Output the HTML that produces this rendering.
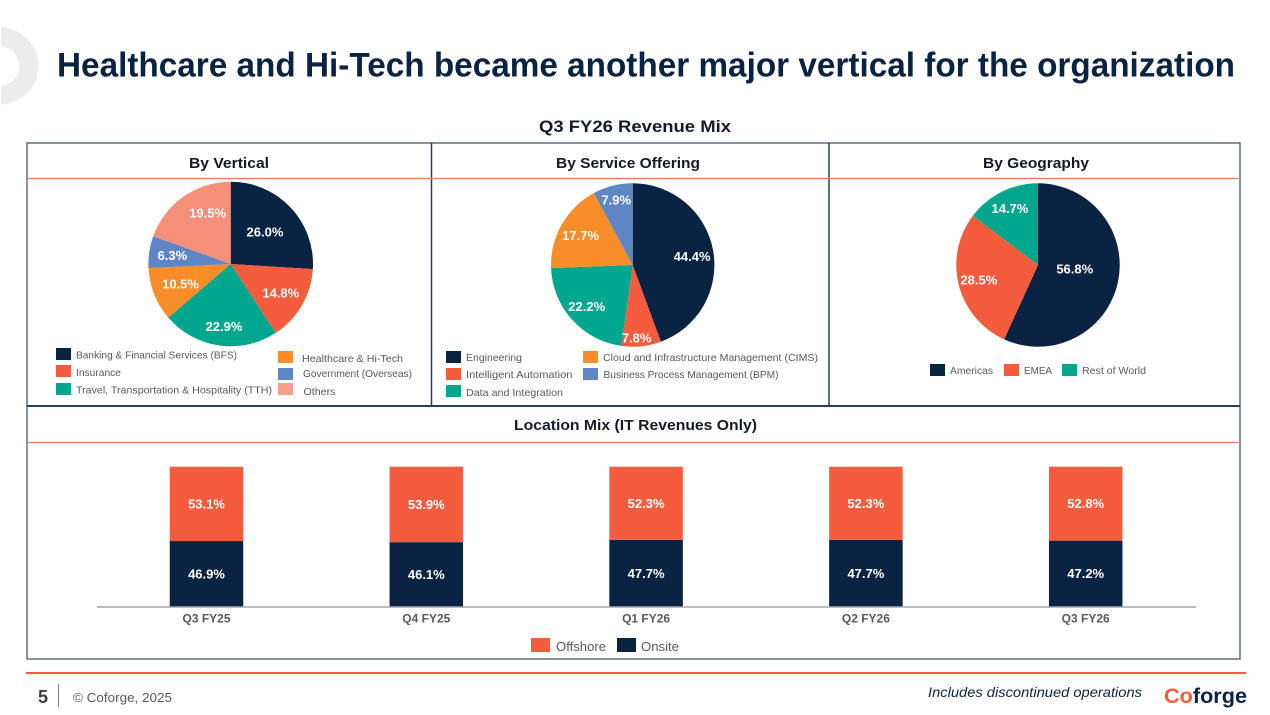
<!DOCTYPE html>
<html lang="en">
<head>
<meta charset="utf-8">
<title>Q3 FY26 Revenue Mix</title>
<style>
html,body{margin:0;padding:0;background:#fff;width:1270px;height:715px;overflow:hidden}
svg{display:block;font-family:"Liberation Sans",Arial,sans-serif}
.legend{font-size:10.5px;fill:#595959}
.panel-title{font-size:15px;font-weight:bold;fill:#141a28;text-anchor:middle}
</style>
</head>
<body>
<svg id="slide" xmlns="http://www.w3.org/2000/svg" width="1270" height="715" viewBox="0 0 1270 715">
  <rect width="1270" height="715" fill="#ffffff"/>
  <circle cx="0" cy="66" r="29" fill="none" stroke="#ececec" stroke-width="19"/>
  <rect x="0" y="20" width="1" height="90" fill="#ffffff"/>
  <text x="57" y="76.500" font-size="34" font-weight="bold" fill="#0a2342" textLength="1178" lengthAdjust="spacingAndGlyphs">Healthcare and Hi-Tech became another major vertical for the organization</text>
  <text x="635" y="132" font-size="17" font-weight="bold" fill="#141a28" text-anchor="middle" textLength="192" lengthAdjust="spacingAndGlyphs">Q3 FY26 Revenue Mix</text>

  <rect x="27" y="143" width="1213" height="516" fill="none" stroke="#44566f" stroke-width="1.3"/>
  <line x1="431.5" y1="143" x2="431.5" y2="406" stroke="#2b3f5c" stroke-width="1.5"/>
  <line x1="829" y1="143" x2="829" y2="406" stroke="#2b3f5c" stroke-width="1.5"/>
  <line x1="27" y1="406" x2="1240" y2="406" stroke="#2b3f5c" stroke-width="2"/>
  <line x1="28" y1="178.5" x2="1239" y2="178.5" stroke="#f7785c" stroke-width="1.3"/>
  <line x1="28" y1="442.5" x2="1239" y2="442.5" stroke="#f7785c" stroke-width="1.3"/>

  <text class="panel-title" x="229" y="168" textLength="80" lengthAdjust="spacingAndGlyphs">By Vertical</text>
  <text class="panel-title" x="628" y="168" textLength="144" lengthAdjust="spacingAndGlyphs">By Service Offering</text>
  <text class="panel-title" x="1036" y="168" textLength="106" lengthAdjust="spacingAndGlyphs">By Geography</text>
  <text class="panel-title" x="635.5" y="430" textLength="243" lengthAdjust="spacingAndGlyphs">Location Mix (IT Revenues Only)</text>

  <g id="pies"></g>
  <g id="bars"></g>

  <g>
    <g><rect x="56" y="348" width="15" height="12" fill="#0a2342"/><text class="legend" x="76" y="358.5" textLength="161" lengthAdjust="spacingAndGlyphs">Banking &amp; Financial Services (BFS)</text></g>
    <g><rect x="56" y="365" width="15" height="12" fill="#f55c3e"/><text class="legend" x="76" y="376" textLength="45" lengthAdjust="spacingAndGlyphs">Insurance</text></g>
    <g><rect x="56" y="383" width="15" height="12" fill="#00a78e"/><text class="legend" x="76" y="393.5" textLength="196" lengthAdjust="spacingAndGlyphs">Travel, Transportation &amp; Hospitality (TTH)</text></g>
    <g><rect x="278" y="351" width="15" height="12" fill="#f98d29"/><text class="legend" x="302" y="362" textLength="101" lengthAdjust="spacingAndGlyphs">Healthcare &amp; Hi-Tech</text></g>
    <g><rect x="278" y="368" width="15" height="12" fill="#5e86c4"/><text class="legend" x="303" y="377" textLength="109" lengthAdjust="spacingAndGlyphs">Government (Overseas)</text></g>
    <g><rect x="278" y="383" width="15" height="12" fill="#f8a090"/><text class="legend" x="303.5" y="395" textLength="32" lengthAdjust="spacingAndGlyphs">Others</text></g>
  </g>
  <g>
    <g><rect x="446" y="351" width="15" height="12" fill="#0a2342"/><text class="legend" x="466" y="361" textLength="56" lengthAdjust="spacingAndGlyphs">Engineering</text></g>
    <g><rect x="446" y="368" width="15" height="12" fill="#f55c3e"/><text class="legend" x="466" y="378" textLength="106.500" lengthAdjust="spacingAndGlyphs">Intelligent Automation</text></g>
    <g><rect x="446" y="385" width="15" height="12" fill="#00a78e"/><text class="legend" x="466" y="396" textLength="97" lengthAdjust="spacingAndGlyphs">Data and Integration</text></g>
    <g><rect x="583" y="351" width="15" height="12" fill="#f98d29"/><text class="legend" x="603" y="361" textLength="215" lengthAdjust="spacingAndGlyphs">Cloud and Infrastructure Management (CIMS)</text></g>
    <g><rect x="583" y="368" width="15" height="12" fill="#5e86c4"/><text class="legend" x="603.500" y="378" textLength="175" lengthAdjust="spacingAndGlyphs">Business Process Management (BPM)</text></g>
  </g>
  <g>
    <g><rect x="930" y="364" width="15" height="12" fill="#0a2342"/><text class="legend" x="950" y="374" textLength="43" lengthAdjust="spacingAndGlyphs">Americas</text></g>
    <g><rect x="1004" y="364" width="15" height="12" fill="#f55c3e"/><text class="legend" x="1024" y="374" textLength="28" lengthAdjust="spacingAndGlyphs">EMEA</text></g>
    <g><rect x="1062" y="364" width="15" height="12" fill="#00a78e"/><text class="legend" x="1082" y="374" textLength="64" lengthAdjust="spacingAndGlyphs">Rest of World</text></g>
  </g>
  <g>
    <g><rect x="531" y="638" width="19" height="14" fill="#f55c3e"/><text x="556" y="651" font-size="13" fill="#595959" textLength="50" lengthAdjust="spacingAndGlyphs">Offshore</text></g>
    <g><rect x="617" y="638" width="19" height="14" fill="#0a2342"/><text x="641" y="651" font-size="13" fill="#595959" textLength="38" lengthAdjust="spacingAndGlyphs">Onsite</text></g>
  </g>

  <line x1="26" y1="673" x2="1246" y2="673" stroke="#f55c3e" stroke-width="2"/>
  <text x="38" y="703" font-size="18" font-weight="bold" fill="#404040">5</text>
  <line x1="58.500" y1="684" x2="58.500" y2="707" stroke="#7f7f7f" stroke-width="1"/>
  <text x="73" y="702" font-size="13" fill="#595959" textLength="99" lengthAdjust="spacingAndGlyphs">© Coforge, 2025</text>
  <text x="928" y="697" font-size="14" font-style="italic" fill="#0a2342" textLength="214" lengthAdjust="spacingAndGlyphs">Includes discontinued operations</text>
  <text x="1164" y="703" font-size="21" font-weight="bold" fill="#0a2342" textLength="83" lengthAdjust="spacingAndGlyphs"><tspan fill="#f55c3e">Co</tspan>forge</text>
</svg>
<script>
// ----- Pie chart data -----
const verticalCategories = ['Banking & Financial Services (BFS)', 'Insurance', 'Travel, Transportation & Hospitality (TTH)', 'Healthcare & Hi-Tech', 'Government (Overseas)', 'Others'];
const verticalValues = [26.0, 14.8, 22.9, 10.5, 6.3, 19.5];
const serviceCategories = ['Engineering', 'Intelligent Automation', 'Data and Integration', 'Cloud and Infrastructure Management (CIMS)', 'Business Process Management (BPM)'];
const serviceValues = [44.4, 7.8, 22.2, 17.7, 7.9];
const geographyCategories = ['Americas', 'EMEA', 'Rest of World'];
const geographyValues = [56.8, 28.5, 14.7];

// ----- Location mix data -----
const quarters = ['Q3 FY25', 'Q4 FY25', 'Q1 FY26', 'Q2 FY26', 'Q3 FY26'];
const onsiteValues = [46.9, 46.1, 47.7, 47.7, 47.2];
const offshoreValues = [53.1, 53.9, 52.3, 52.3, 52.8];

// ----- Styling and layout -----
const NS = 'http://www.w3.org/2000/svg';
const NAVY = '#0a2342', RED = '#f55c3e', TEAL = '#00a78e', ORANGE = '#f98d29', BLUE = '#5e86c4', SALMON = '#f68f78';

function svgEl(tag, parent) {
  const el = document.createElementNS(NS, tag);
  parent.appendChild(el);
  return el;
}

function drawPie(opts) {
  const root = document.getElementById('pies');
  const total = opts.values.reduce(function (a, b) { return a + b; }, 0);
  const angle = function (v) { return v / total * Math.PI * 2; };
  const px = function (a, r) { return opts.cx + r * Math.sin(a); };
  const py = function (a, r) { return opts.cy - r * Math.cos(a); };
  let start = 0;
  const labels = [];
  opts.values.forEach(function (v, i) {
    const end = start + angle(v);
    const large = end - start > Math.PI ? 1 : 0;
    const slice = svgEl('path', root);
    
    
    slice.setAttribute('aria-label', opts.categories[i]);
    slice.setAttribute('fill', opts.colors[i]);
    slice.setAttribute('d', 'M' + opts.cx + ' ' + opts.cy +
      'L' + px(start, opts.r) + ' ' + py(start, opts.r) +
      'A' + opts.r + ' ' + opts.r + ' 0 ' + large + ' 1 ' + px(end, opts.r) + ' ' + py(end, opts.r) + 'Z');
    labels.push({ a: (start + end) / 2 + opts.labelTurns[i] * Math.PI / 180, v: v, lr: opts.labelRadii[i] });
    start = end;
  });
  labels.forEach(function (l) {
    const t = svgEl('text', root);
    
    
    t.setAttribute('x', px(l.a, l.lr));
    t.setAttribute('y', py(l.a, l.lr) + 4.5);
    t.setAttribute('text-anchor', 'middle');
    t.setAttribute('font-size', '13');
    t.setAttribute('font-weight', 'bold');
    t.setAttribute('fill', '#ffffff');
    t.textContent = l.v.toFixed(1) + '%';
  });
}

drawPie({ cx: 230.7, cy: 264, r: 82.3, categories: verticalCategories, values: verticalValues,
  colors: [NAVY, RED, TEAL, ORANGE, BLUE, SALMON],
  labelRadii: [47, 58, 63, 54, 59, 56], labelTurns: [0, 0, -2, 0, 0, 10.8] });
drawPie({ cx: 632.7, cy: 265, r: 81.7, categories: serviceCategories, values: serviceValues,
  colors: [NAVY, RED, TEAL, ORANGE, BLUE],
  labelRadii: [60, 73, 62, 60, 67], labelTurns: [2, 3, 0, 0, 0] });
drawPie({ cx: 1038, cy: 265, r: 81.7, categories: geographyCategories, values: geographyValues,
  colors: [NAVY, RED, TEAL],
  labelRadii: [37, 61, 63], labelTurns: [-6, 0, 0] });

// ----- Stacked bars -----
const barsRoot = document.getElementById('bars');
const plotLeft = 97, plotRight = 1196, barBase = 606.7, barWidth = 73.5, pxPerPercent = 1.4;
const xCenter = function (i) { return plotLeft + (plotRight - plotLeft) * (i + 0.5) / quarters.length - 0.4; };
const yScale = function (v) { return barBase - v * pxPerPercent; };

function drawSegment(i, low, value, fill, name) {
  const rect = svgEl('rect', barsRoot);
  
  
  rect.setAttribute('x', xCenter(i) - barWidth / 2);
  rect.setAttribute('y', yScale(low + value));
  rect.setAttribute('width', barWidth);
  rect.setAttribute('height', value * pxPerPercent);
  rect.setAttribute('fill', fill);
  const t = svgEl('text', barsRoot);
  
  
  t.setAttribute('x', xCenter(i));
  t.setAttribute('y', yScale(low + value / 2) + 4.5);
  t.setAttribute('text-anchor', 'middle');
  t.setAttribute('font-size', '13');
  t.setAttribute('font-weight', 'bold');
  t.setAttribute('fill', '#ffffff');
  t.textContent = value.toFixed(1) + '%';
}

quarters.forEach(function (q, i) {
  drawSegment(i, 0, onsiteValues[i], NAVY, 'onsite');
  drawSegment(i, onsiteValues[i], offshoreValues[i], RED, 'offshore');
  const tick = svgEl('text', barsRoot);
  
  
  tick.setAttribute('x', xCenter(i));
  tick.setAttribute('y', 622.5);
  tick.setAttribute('text-anchor', 'middle');
  tick.setAttribute('font-size', '12');
  tick.setAttribute('font-weight', 'bold');
  tick.setAttribute('fill', '#595959');
  tick.textContent = q;
});

const axis = svgEl('line', barsRoot);


axis.setAttribute('x1', plotLeft);
axis.setAttribute('x2', plotRight);
axis.setAttribute('y1', 607);
axis.setAttribute('y2', 607);
axis.setAttribute('stroke', '#a6a6a6');
axis.setAttribute('stroke-width', '1.5');
</script>
</body>
</html>
